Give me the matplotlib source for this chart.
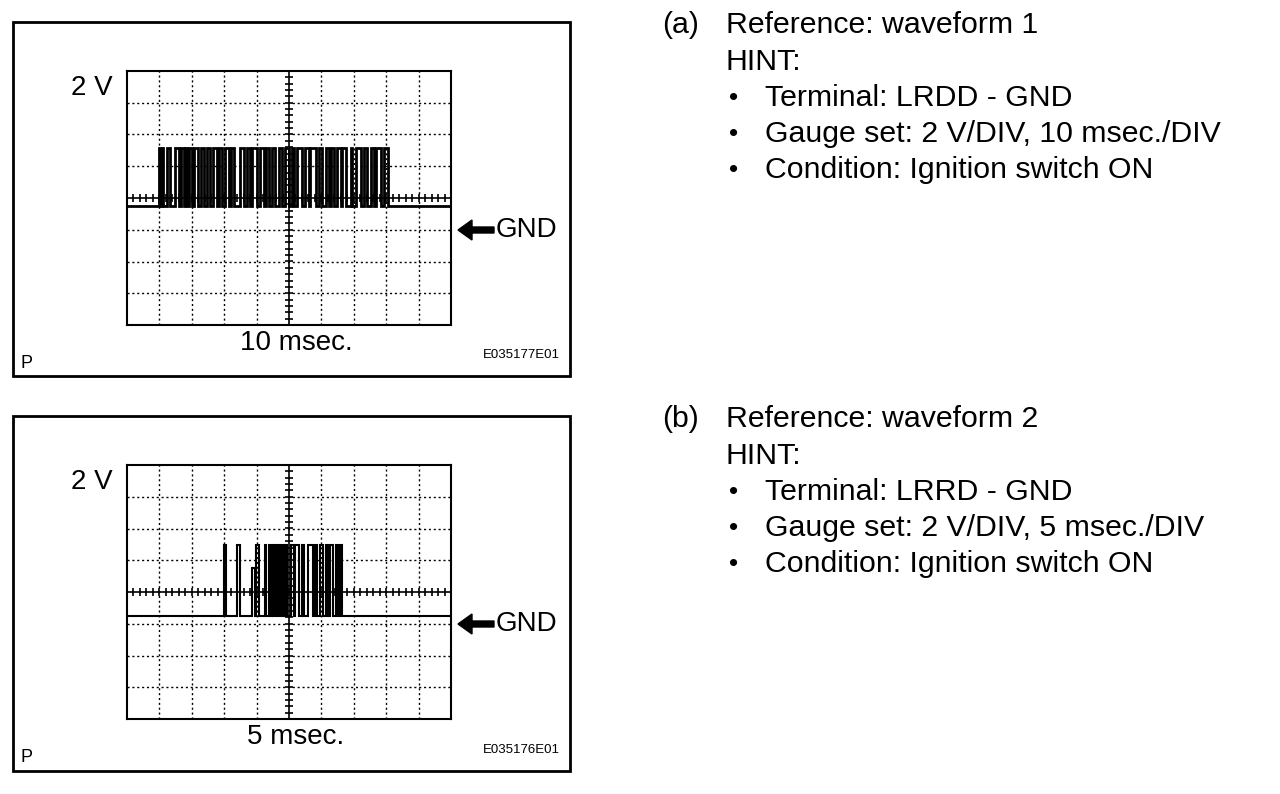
import numpy as np
import matplotlib
matplotlib.use("Agg")
import matplotlib.pyplot as plt
from matplotlib.patches import Rectangle, FancyArrow

plt.rcParams['font.family'] = ['Liberation Sans', 'DejaVu Sans']

# ---------------- data ----------------
# waveform 1 : 10 ms/DIV, 2 V/DIV  (high intervals, ms)
w1_low = 1.47
w1_high = 5.15
w1_pulses = [
    (9.9, 10.2), (10.8, 11.1), (12.3, 13.3), (14.8, 16.0), (16.7, 17.6),
    (17.9, 18.5), (19.1, 20.1), (20.7, 21.9), (22.8, 23.8), (24.7, 25.6),
    (26.5, 27.8), (28.4, 29.3), (30.2, 31.5), (32.1, 33.0), (34.9, 36.1),
    (37.0, 38.0), (38.6, 40.1), (41.0, 42.3), (42.9, 43.8), (44.8, 45.7),
    (46.9, 47.8), (48.8, 50.0), (50.9, 51.5), (52.5, 54.0), (54.9, 56.2),
    (56.6, 58.3), (59.3, 60.2), (61.4, 62.3), (63.0, 63.9), (64.8, 66.0),
    (66.4, 67.6), (69.1, 69.4), (70.7, 72.2), (73.1, 74.1), (75.3, 76.2),
    (76.9, 78.4), (79.3, 80.5),
]
# waveform 2 : 5 ms/DIV, 2 V/DIV  (start ms, end ms, level V)
w2_low = 0.5
w2_high = 4.98
w2_pulses = [
    (14.9, 15.3, 4.98), (17.05, 17.45, 4.98), (19.3, 19.7, 3.5), (19.9, 20.35, 4.98),
    (21.3, 21.5, 4.98), (21.85, 22.05, 4.98), (22.4, 22.6, 4.98), (22.9, 23.15, 4.98),
    (23.45, 23.7, 4.98), (24.0, 24.25, 4.98), (24.55, 24.75, 4.98), (25.3, 25.8, 4.98),
    (26.0, 26.6, 4.98), (27.0, 27.3, 4.98), (27.95, 28.7, 4.98), (29.0, 29.3, 4.98),
    (29.8, 30.25, 4.98), (30.7, 31.0, 4.98), (31.3, 31.8, 4.98), (32.25, 32.55, 4.98),
    (32.9, 33.25, 4.98),
]

hint_a = ["Terminal: LRDD - GND", "Gauge set: 2 V/DIV, 10 msec./DIV",
          "Condition: Ignition switch ON"]
hint_b = ["Terminal: LRRD - GND", "Gauge set: 2 V/DIV, 5 msec./DIV",
          "Condition: Ignition switch ON"]

W, H = 1280, 794
fig = plt.figure(figsize=(W / 100, H / 100), dpi=100)


def fx(x):
    return x / W


def fy(y):
    return 1 - y / H


def build(pulses, low, tmax, default_high=None):
    xs, ys = [0.0], [low]
    for p in pulses:
        if len(p) == 3:
            s, e, h = p
        else:
            s, e = p
            h = default_high
        xs += [s, s, e, e]
        ys += [low, h, h, low]
    xs.append(tmax)
    ys.append(low)
    return np.array(xs), np.array(ys)


def scope(top, tdiv, pulses, low, high, box_top, box_bot, tlabel, code,
          label, title, hints, trace_lw):
    # outer box
    fig.patches.append(Rectangle((fx(13), fy(box_bot)), (570 - 13) / W,
                                 (box_bot - box_top) / H, transform=fig.transFigure,
                                 fill=False, lw=2.0, ec='black'))
    x0, x1 = 127, 451
    y0, y1 = top, top + 254
    ax = fig.add_axes([fx(x0), fy(y1), (x1 - x0) / W, (y1 - y0) / H])
    tmax = 10 * tdiv
    ax.set_xlim(0, tmax)
    ax.set_ylim(-6, 10)
    for sp in ax.spines.values():
        sp.set_linewidth(1.5)
    ax.set_xticks([])
    ax.set_yticks([])
    # dotted grid
    for i in range(1, 10):
        if i != 5:
            ax.axvline(i * tdiv, color='black', lw=1.0, ls=(0, (1.5, 2)))
    for v in range(-4, 10, 2):
        if v != 2:
            ax.axhline(v, color='black', lw=1.0, ls=(0, (1.5, 2)))
    # solid center lines with ticks
    ax.axvline(5 * tdiv, color='black', lw=1.2)
    ax.axhline(2, color='black', lw=1.2)
    yt = np.arange(-6, 10.01, 0.4)
    ax.plot(np.full_like(yt, 5 * tdiv), yt, ls='none', marker='_', ms=6,
            mew=1.2, color='black')
    xt = np.arange(0, tmax + 0.001, tdiv / 5)
    ax.plot(xt, np.full_like(xt, 2.0), ls='none', marker='|', ms=6,
            mew=1.2, color='black')
    # trace
    xs, ys = build(pulses, low, tmax, high)
    ax.plot(xs, ys, color='black', lw=trace_lw, solid_joinstyle='miter')

    # labels
    fig.text(fx(113), fy(top + 17), "2 V", ha='right', va='center', fontsize=20)
    fig.text(fx(496), fy(top + 159), "GND", ha='left', va='center', fontsize=20)
    fig.patches.append(FancyArrow(fx(494), fy(top + 159), -(494 - 458) / W, 0,
                                  width=6 / H, head_width=20 / H,
                                  head_length=14 / W, length_includes_head=True,
                                  transform=fig.transFigure, color='black'))
    fig.text(fx(296), fy(top + 272), tlabel, ha='center', va='center', fontsize=20)
    fig.text(fx(21), fy(box_bot - 13), "P", ha='left', va='center', fontsize=13)
    fig.text(fx(560), fy(box_bot - 21), code, ha='right', va='center', fontsize=9.5)

    # right-hand text
    ty = box_top + 3
    fs = 21.8
    fig.text(fx(662), fy(ty), label, ha='left', va='center', fontsize=fs)
    fig.text(fx(726), fy(ty), title, ha='left', va='center', fontsize=fs)
    fig.text(fx(726), fy(ty + 37), "HINT:", ha='left', va='center', fontsize=fs)
    for k, h in enumerate(hints):
        yy = ty + 73 + 36 * k
        fig.text(fx(734), fy(yy), "\u2022", ha='center', va='center', fontsize=19)
        fig.text(fx(765), fy(yy), h, ha='left', va='center', fontsize=fs)


scope(71, 10, w1_pulses, w1_low, w1_high, 22, 376, "10 msec.", "E035177E01",
      "(a)", "Reference: waveform 1", hint_a, 2.0)
scope(465, 5, w2_pulses, w2_low, w2_high, 416, 771, "5 msec.", "E035176E01",
      "(b)", "Reference: waveform 2", hint_b, 1.5)

fig.savefig("out.png", dpi=100, facecolor='white')
